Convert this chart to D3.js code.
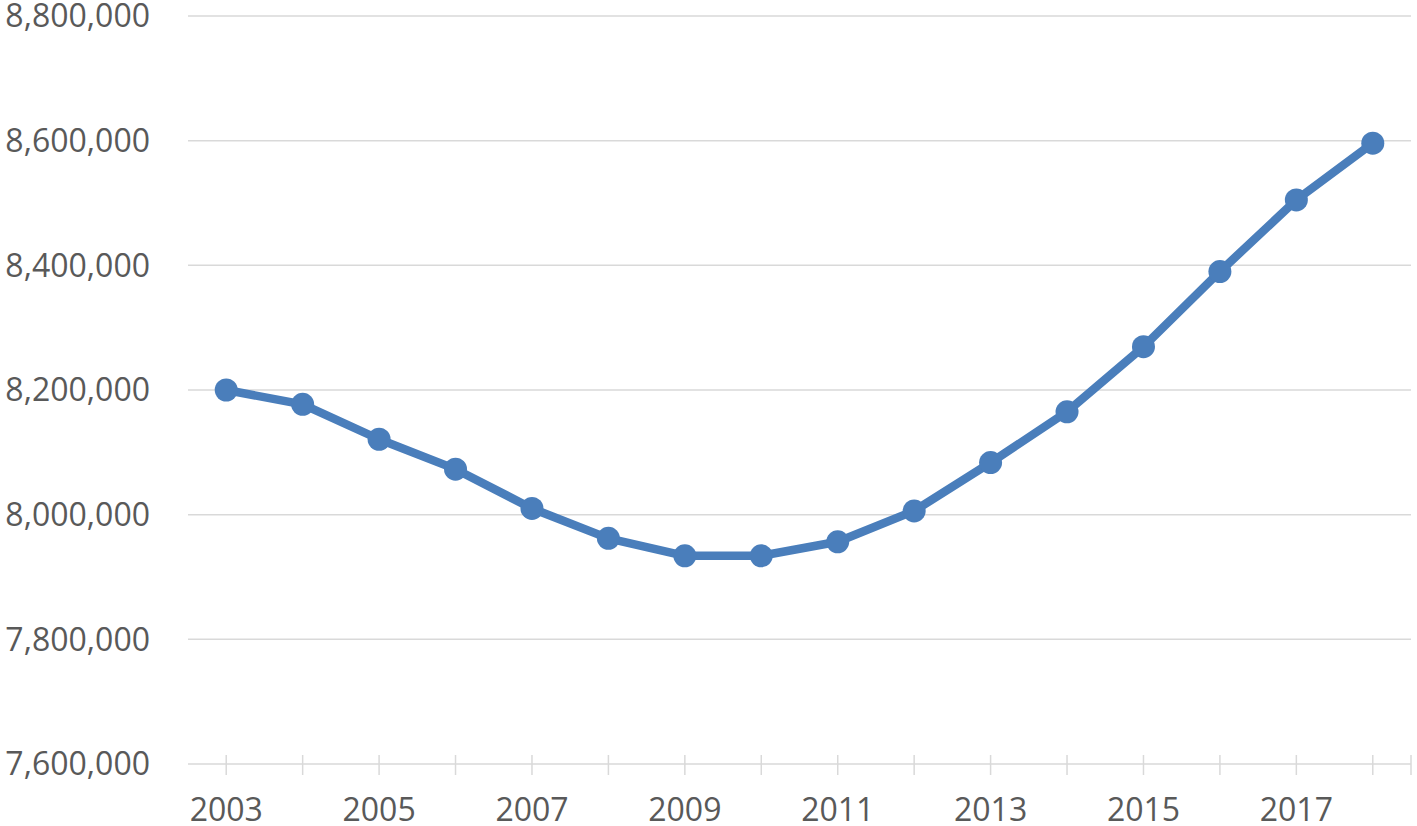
<!DOCTYPE html>
<html>
<head>
<meta charset="utf-8">
<script src="https://cdn.jsdelivr.net/npm/d3@7"></script>
<style>
  html, body { margin: 0; padding: 0; background: #fff; }
  svg text { font-family: "Open Sans", sans-serif; fill: #595959; }
</style>
</head>
<body>
<svg id="chart" width="1417" height="826"></svg>
<script>
var years = [2003, 2004, 2005, 2006, 2007, 2008, 2009, 2010, 2011, 2012, 2013, 2014, 2015, 2016, 2017, 2018];
var values = [8200000, 8177000, 8121000, 8073000, 8010000, 7962000, 7934000, 7934000,
              7956500, 8006000, 8083500, 8165000, 8269500, 8390000, 8505000, 8596000];
var yTicks = [7600000, 7800000, 8000000, 8200000, 8400000, 8600000, 8800000];
var xLabelYears = [2003, 2005, 2007, 2009, 2011, 2013, 2015, 2017];

var lineColor = "#4A7EBB";
var gridColor = "#D9D9D9";

var svg = d3.select("#chart");
var plotLeft = 188, plotRight = 1411, plotTop = 16, plotBottom = 764;

var x = d3.scaleBand()
  .domain(years)
  .range([plotLeft, plotRight]);

var y = d3.scaleLinear()
  .domain([7600000, 8800000])
  .range([plotBottom, plotTop]);

function cx(d) { return x(d) + x.bandwidth() / 2; }

// horizontal gridlines
svg.append("g")
  .selectAll("line")
  .data(yTicks)
  .enter()
  .append("line")
  .attr("x1", plotLeft)
  .attr("x2", plotRight)
  .attr("y1", function(d) { return y(d); })
  .attr("y2", function(d) { return y(d); })
  .attr("stroke", gridColor)
  .attr("stroke-width", 1.5);

// y labels
var fmt = d3.format(",");
svg.append("g")
  .selectAll("text")
  .data(yTicks)
  .enter()
  .append("text")
  .attr("x", 150)
  .attr("y", function(d) { return y(d); })
  .attr("dy", "0.35em")
  .attr("text-anchor", "end")
  .style("font-size", "32px")
  .text(function(d) { return fmt(d); });

// x axis ticks (cross style)
svg.append("g")
  .selectAll("line")
  .data(years)
  .enter()
  .append("line")
  .attr("x1", cx)
  .attr("x2", cx)
  .attr("y1", plotBottom - 9)
  .attr("y2", plotBottom + 11)
  .attr("stroke", gridColor)
  .attr("stroke-width", 1.5);

svg.append("line")
  .attr("x1", plotRight)
  .attr("x2", plotRight)
  .attr("y1", plotBottom - 9)
  .attr("y2", plotBottom + 11)
  .attr("stroke", gridColor)
  .attr("stroke-width", 1.5);

// x labels
svg.append("g")
  .selectAll("text")
  .data(xLabelYears)
  .enter()
  .append("text")
  .attr("x", cx)
  .attr("y", 821)
  .attr("text-anchor", "middle")
  .style("font-size", "32px")
  .text(function(d) { return d; });

// series
var data = years.map(function(yr, i) { return { year: yr, value: values[i] }; });

var line = d3.line()
  .x(function(d) { return cx(d.year); })
  .y(function(d) { return y(d.value); });

svg.append("path")
  .datum(data)
  .attr("fill", "none")
  .attr("stroke", lineColor)
  .attr("stroke-width", 8.5)
  .attr("stroke-linejoin", "round")
  .attr("d", line);

svg.append("g")
  .selectAll("circle")
  .data(data)
  .enter()
  .append("circle")
  .attr("cx", function(d) { return cx(d.year); })
  .attr("cy", function(d) { return y(d.value); })
  .attr("r", 11.5)
  .attr("fill", lineColor);
</script>
</body>
</html>
